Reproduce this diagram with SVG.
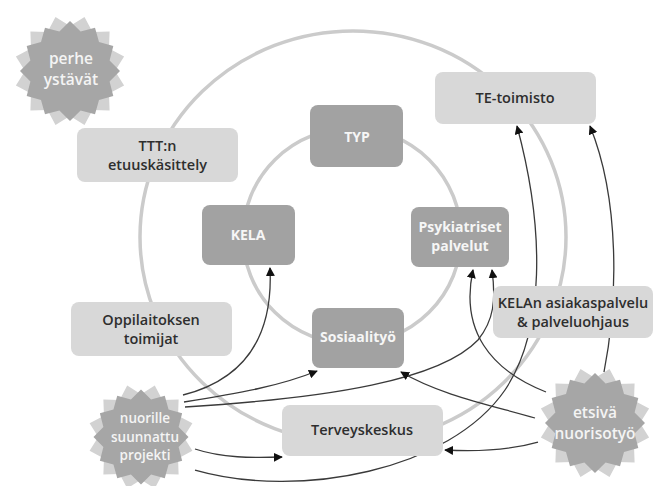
<svg xmlns="http://www.w3.org/2000/svg" width="655" height="486" viewBox="0 0 655 486">
<style>
.ring{fill:none;stroke:#cbcbcb;stroke-width:3.5}
.outer{fill:#d8d8d8}
.inner{fill:#a2a2a2}
.sf{fill:#a6a6a6}
.sb{fill:#d2d2d2}
.dt{font-family:"Open Sans","Liberation Sans",sans-serif;font-size:14.5px;font-weight:600;fill:#2e2e2e;text-anchor:middle}
.wt{font-family:"Open Sans","Liberation Sans",sans-serif;font-size:14px;font-weight:700;fill:#f6f6f6;text-anchor:middle}
.st{font-family:"Open Sans","Liberation Sans",sans-serif;font-size:15.5px;font-weight:600;fill:#f4f4f4;text-anchor:middle}
.sm{font-size:13.5px}
.conn path{fill:none;stroke:#3a3a3a;stroke-width:1.3;marker-end:url(#arr)}
</style>
<defs>
<marker id="arr" viewBox="0 0 10 10" refX="9" refY="5" markerWidth="9" markerHeight="9" markerUnits="userSpaceOnUse" orient="auto">
<path d="M0,0 L10,5 L0,10 z" fill="#111"/>
</marker>
<polygon id="starBack" points="45,0 54.1,14.5 39,22.5 39.6,39.6 22.5,39 14.5,54.1 0,45 -14.5,54.1 -22.5,39 -39.6,39.6 -39,22.5 -54.1,14.5 -45,0 -54.1,-14.5 -39,-22.5 -39.6,-39.6 -22.5,-39 -14.5,-54.1 0,-45 14.5,-54.1 22.5,-39 39.6,-39.6 39,-22.5 54.1,-14.5"/>
<polygon id="starFront" points="50,0 39.6,10.6 43.3,25 29,29 25,43.3 10.6,39.6 0,50 -10.6,39.6 -25,43.3 -29,29 -43.3,25 -39.6,10.6 -50,0 -39.6,-10.6 -43.3,-25 -29,-29 -25,-43.3 -10.6,-39.6 0,-50 10.6,-39.6 25,-43.3 29,-29 43.3,-25 39.6,-10.6"/>
</defs>
<rect width="655" height="486" fill="#ffffff"/>
<g id="rings">
<ellipse class="ring" cx="353" cy="237" rx="213" ry="206"/>
<ellipse class="ring" cx="352" cy="236" rx="109" ry="108"/>
</g>
<g id="connectors" class="conn">
<path d="M183,395 C250,378 273,330 270,268"/>
<path d="M184,402 C240,393 280,386 317,371"/>
<path d="M185,407 C330,398 440,380 478,340 C494,320 496,300 492,270"/>
<path d="M195,449 C222,458 252,458 282,457"/>
<path d="M195,470 C300,500 450,470 505,390 C545,330 545,230 517,126"/>
<path d="M604,372 C618,300 620,200 590,126"/>
<path d="M546,392 C490,370 460,330 473,270"/>
<path d="M535,418 C490,405 440,395 401,372"/>
<path d="M538,442 C510,450 480,452 445,450"/>
</g>
<g id="perhe">
<use href="#starBack" class="sb" transform="translate(70,71)"/>
<use href="#starFront" class="sf" transform="translate(70,71)"/>
<text class="st" x="71" y="64">perhe</text>
<text class="st" x="71" y="85.2">ystävät</text>
</g>
<g id="ttt">
<rect class="outer" x="77" y="128" width="161" height="54" rx="8"/>
<text class="dt" x="157.5" y="150.5">TTT:n</text>
<text class="dt" x="157.5" y="170.3">etuuskäsittely</text>
</g>
<g id="te">
<rect class="outer" x="435" y="72" width="161" height="52" rx="8"/>
<text class="dt" x="515" y="103">TE-toimisto</text>
</g>
<g id="oppilaitos">
<rect class="outer" x="71" y="302" width="161" height="54" rx="8"/>
<text class="dt" x="151" y="324.5">Oppilaitoksen</text>
<text class="dt" x="151" y="344.3">toimijat</text>
</g>
<g id="kelan">
<rect class="outer" x="493" y="286" width="160" height="52" rx="8"/>
<text class="dt" x="573" y="307.5">KELAn asiakaspalvelu</text>
<text class="dt" x="573" y="327.3">&amp; palveluohjaus</text>
</g>
<g id="terveys">
<rect class="outer" x="282" y="405" width="161" height="51" rx="8"/>
<text class="dt" x="362" y="435">Terveyskeskus</text>
</g>
<g id="typ">
<rect class="inner" x="310" y="105" width="93" height="62" rx="8"/>
<text class="wt" x="357" y="142">TYP</text>
</g>
<g id="kela">
<rect class="inner" x="202" y="205" width="93" height="60" rx="8"/>
<text class="wt" x="248" y="240">KELA</text>
</g>
<g id="psyk">
<rect class="inner" x="411" y="207" width="98" height="60" rx="8"/>
<text class="wt" x="460" y="232">Psykiatriset</text>
<text class="wt" x="460" y="251.3">palvelut</text>
</g>
<g id="sosiaali">
<rect class="inner" x="312" y="308" width="92" height="60" rx="8"/>
<text class="wt" x="358" y="342">Sosiaalityö</text>
</g>
<g id="nuorille">
<use href="#starBack" class="sb" transform="translate(141,437) scale(0.95)"/>
<use href="#starFront" class="sf" transform="translate(141,437) scale(0.95)"/>
<text class="st sm" x="145" y="423">nuorille</text>
<text class="st sm" x="145" y="441.5">suunnattu</text>
<text class="st sm" x="145" y="460">projekti</text>
</g>
<g id="etsiva">
<use href="#starBack" class="sb" transform="translate(595,423)"/>
<use href="#starFront" class="sf" transform="translate(595,423)"/>
<text class="st" x="595" y="418">etsivä</text>
<text class="st" x="595" y="439.2">nuorisotyö</text>
</g>
</svg>
